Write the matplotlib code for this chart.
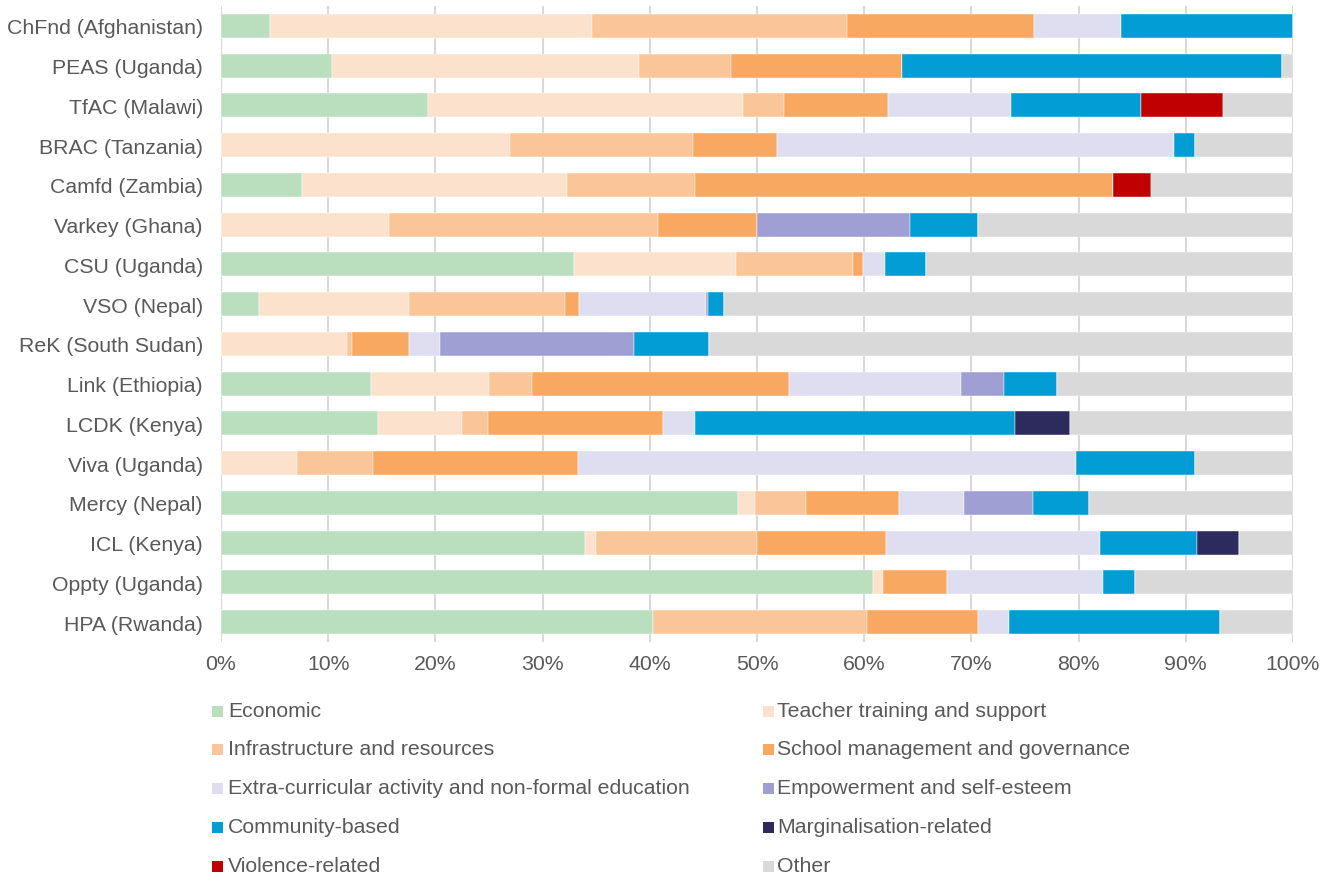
import matplotlib
matplotlib.use("Agg")
import matplotlib.pyplot as plt
from matplotlib.patches import Rectangle
import numpy as np

plt.rcParams['font.family'] = ['Liberation Sans', 'DejaVu Sans']

categories = ["ChFnd (Afghanistan)", "PEAS (Uganda)", "TfAC (Malawi)", "BRAC (Tanzania)",
              "Camfd (Zambia)", "Varkey (Ghana)", "CSU (Uganda)", "VSO (Nepal)",
              "ReK (South Sudan)", "Link (Ethiopia)", "LCDK (Kenya)", "Viva (Uganda)",
              "Mercy (Nepal)", "ICL (Kenya)", "Oppty (Uganda)", "HPA (Rwanda)"]

series_names = ["Economic", "Teacher training and support", "Infrastructure and resources",
                "School management and governance",
                "Extra-curricular activity and non-formal education",
                "Empowerment and self-esteem", "Community-based", "Marginalisation-related",
                "Violence-related", "Other"]

economic      = [4.6, 10.4, 19.3, 0.0, 7.6, 0.0, 32.9, 3.5, 0.0, 14.0, 14.6, 0.0, 48.2, 34.0, 60.8, 40.3]
teacher       = [30.0, 28.6, 29.4, 27.0, 24.7, 15.7, 15.1, 14.0, 11.8, 11.0, 7.9, 7.1, 1.6, 1.0, 1.0, 0.0]
infrastructure= [23.8, 8.6, 3.8, 17.0, 11.9, 25.1, 11.0, 14.6, 0.4, 4.0, 2.4, 7.1, 4.8, 15.0, 0.0, 20.0]
school_mgmt   = [17.4, 15.9, 9.7, 7.9, 39.0, 9.2, 0.9, 1.3, 5.3, 24.0, 16.3, 19.1, 8.6, 12.0, 5.9, 10.3]
extra_curr    = [8.2, 0.0, 11.5, 37.0, 0.0, 0.0, 2.0, 11.8, 2.9, 16.0, 3.0, 46.5, 6.1, 20.0, 14.6, 2.9]
empowerment   = [0.0, 0.0, 0.0, 0.0, 0.0, 14.3, 0.0, 0.2, 18.1, 4.0, 0.0, 0.0, 6.4, 0.0, 0.0, 0.0]
community     = [16.0, 35.5, 12.1, 2.0, 0.0, 6.3, 3.9, 1.5, 7.0, 5.0, 29.9, 11.1, 5.3, 9.0, 3.0, 19.7]
marginal      = [0.0, 0.0, 0.0, 0.0, 0.0, 0.0, 0.0, 0.0, 0.0, 0.0, 5.1, 0.0, 0.0, 4.0, 0.0, 0.0]
violence      = [0.0, 0.0, 7.7, 0.0, 3.6, 0.0, 0.0, 0.0, 0.0, 0.0, 0.0, 0.0, 0.0, 0.0, 0.0, 0.0]
other         = [0.0, 1.0, 6.5, 9.1, 13.2, 29.4, 34.2, 53.1, 54.5, 22.0, 20.8, 9.1, 19.0, 5.0, 14.7, 6.8]

x_ticks = [0, 10, 20, 30, 40, 50, 60, 70, 80, 90, 100]
x_tick_labels = ["0%", "10%", "20%", "30%", "40%", "50%", "60%", "70%", "80%", "90%", "100%"]

colors = ["#BADFBF", "#FCE2CC", "#FBC59A", "#F9A862", "#DFDEF0",
          "#A09FD3", "#039DD5", "#2D2A5E", "#C00000", "#D9D9D9"]

data = [economic, teacher, infrastructure, school_mgmt, extra_curr,
        empowerment, community, marginal, violence, other]

W, H = 1333, 878
fig = plt.figure(figsize=(W / 100, H / 100), dpi=100)
ax = fig.add_axes([221 / W, 1 - 643 / H, (1293 - 221) / W, (643 - 7) / H])

y = np.arange(len(categories))
left = np.zeros(len(categories))
for vals, col, name in zip(data, colors, series_names):
    v = np.array(vals)
    ax.barh(y, v, left=left, height=0.6, color=col, label=name, zorder=3,
            edgecolor='white', linewidth=0.3)
    left += v

ax.set_ylim(len(categories) - 0.5, -0.5)
ax.set_xlim(0, 100)
ax.set_yticks(y)
ax.set_yticklabels(categories)
ax.set_xticks(x_ticks)
ax.set_xticklabels(x_tick_labels)

text_col = "#595959"
fs = 15.3
ax.tick_params(axis='y', length=0, pad=13, labelsize=fs, labelcolor=text_col)
ax.tick_params(axis='x', length=0, pad=9, labelsize=fs, labelcolor=text_col)
ax.grid(axis='x', color='#D9D9D9', linewidth=1.5, zorder=0)
for s in ax.spines.values():
    s.set_visible(False)
ax.axvline(0, color='#D9D9D9', linewidth=1.5, zorder=1)

# Legend: 2 columns, row-major order
leg_rows_y = [712, 750, 789, 828, 867]
col_x_marker = [212, 763]
col_x_text = [228, 777]
for i, (name, col) in enumerate(zip(series_names, colors)):
    r, c = divmod(i, 2)
    yc = leg_rows_y[r]
    fig.patches.append(Rectangle((col_x_marker[c] / W, 1 - (yc + 5.5) / H), 11 / W, 11 / H,
                                 transform=fig.transFigure, facecolor=col, edgecolor='none'))
    fig.text(col_x_text[c] / W, 1 - yc / H, name, fontsize=fs, color=text_col,
             va='center', ha='left')

fig.savefig("out.png", dpi=100, facecolor='white')
